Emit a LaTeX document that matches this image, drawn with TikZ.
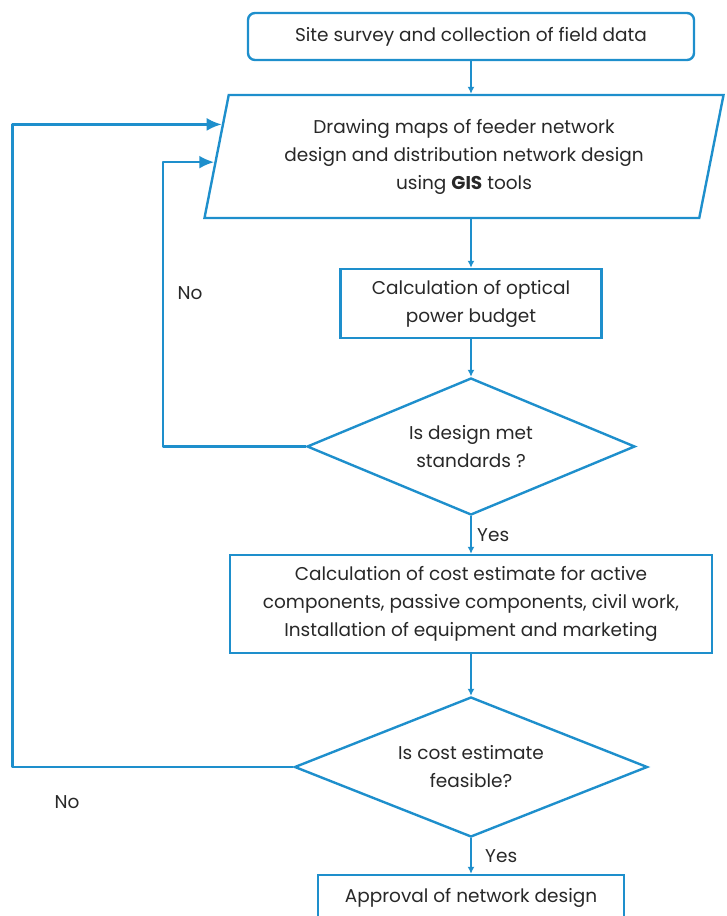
\documentclass[tikz,border=0pt]{standalone}
\usepackage{fontspec}
\setmainfont{Poppins}
\usepackage{tikz}
\usetikzlibrary{positioning,shapes,arrows,arrows.meta,calc}
\definecolor{flowblue}{RGB}{30,143,204}
\definecolor{flowtext}{RGB}{40,40,40}
\tikzstyle{startbox} = [rectangle, rounded corners=7pt, draw=flowblue, line width=2.4pt, minimum width=446pt, minimum height=47pt, align=center]
\tikzstyle{io} = [trapezium, trapezium left angle=77, trapezium right angle=103, trapezium stretches=true, draw=flowblue, line width=2.4pt, minimum width=520pt, minimum height=123pt, align=center]
\tikzstyle{process} = [rectangle, draw=flowblue, line width=2.4pt, align=center]
\tikzstyle{decision} = [diamond, aspect=2.4, draw=flowblue, line width=2.4pt, align=center, inner sep=0pt]
\tikzstyle{line} = [draw=flowblue, line width=1.8pt, -{Latex[length=7pt,width=7pt]}]
\tikzstyle{loopline} = [draw=flowblue, line width=2.6pt, line join=round, -{Latex[length=15pt,width=13pt]}]

\begin{document}
\begin{tikzpicture}[x=1pt, y=1pt, node distance=120pt, font=\fontsize{18.5}{28}\selectfont, text=flowtext]
\useasboundingbox (0,0) rectangle (727,-916);
\clip (0,0) rectangle (727,-916);
% Place nodes
\node [startbox] (survey) at (471,-36.5) {Site survey and collection of field data};
\node [io, below of=survey, node distance=120pt, xshift=-7pt] (maps) {Drawing maps of feeder network\\design and distribution network design\\using \textbf{GIS} tools};
\node [process, below of=maps, node distance=147pt, xshift=7pt, minimum width=261pt, minimum height=69pt] (budget) {Calculation of optical\\power budget};
\node [decision, below of=budget, node distance=143pt, minimum width=328pt, minimum height=137pt] (standards) {Is design met\\standards ?};
\node [process, below of=standards, node distance=157.5pt, minimum width=482pt, minimum height=98pt] (cost) {Calculation of cost estimate for active\\components, passive components, civil work,\\Installation of equipment and marketing};
\node [decision, below of=cost, node distance=163pt, minimum width=353pt, minimum height=140pt] (feasible) {Is cost estimate\\feasible?};
\node [process, below of=feasible, node distance=130.5pt, minimum width=306pt, minimum height=45pt] (approval) {Approval of network design};
\node (noA) at (190,-293) {No};
\node (noB) at (67,-802) {No};
% Entry points on the slanted side
\coordinate (entryA) at ($(maps.bottom left corner)!.756!(maps.top left corner)$);
\coordinate (entryB) at ($(maps.bottom left corner)!.455!(maps.top left corner)$);
% Draw edges
\path [line] (survey.south) -- (survey.south |- maps.north);
\path [line] (budget.north |- maps.south) -- (budget.north);
\path [line] (budget) -- (standards);
\path [line] (standards) -- node [anchor=west, xshift=2pt] {Yes} (cost);
\path [line] (cost) -- (feasible);
\path [line] (feasible) -- node [anchor=west, xshift=10pt] {Yes} (approval);
\path [loopline] (standards.west) -- ++(-143,0) |- (entryB);
\path [loopline] (feasible.west) -- ++(-281,0) |- (entryA);
\end{tikzpicture}
\end{document}
